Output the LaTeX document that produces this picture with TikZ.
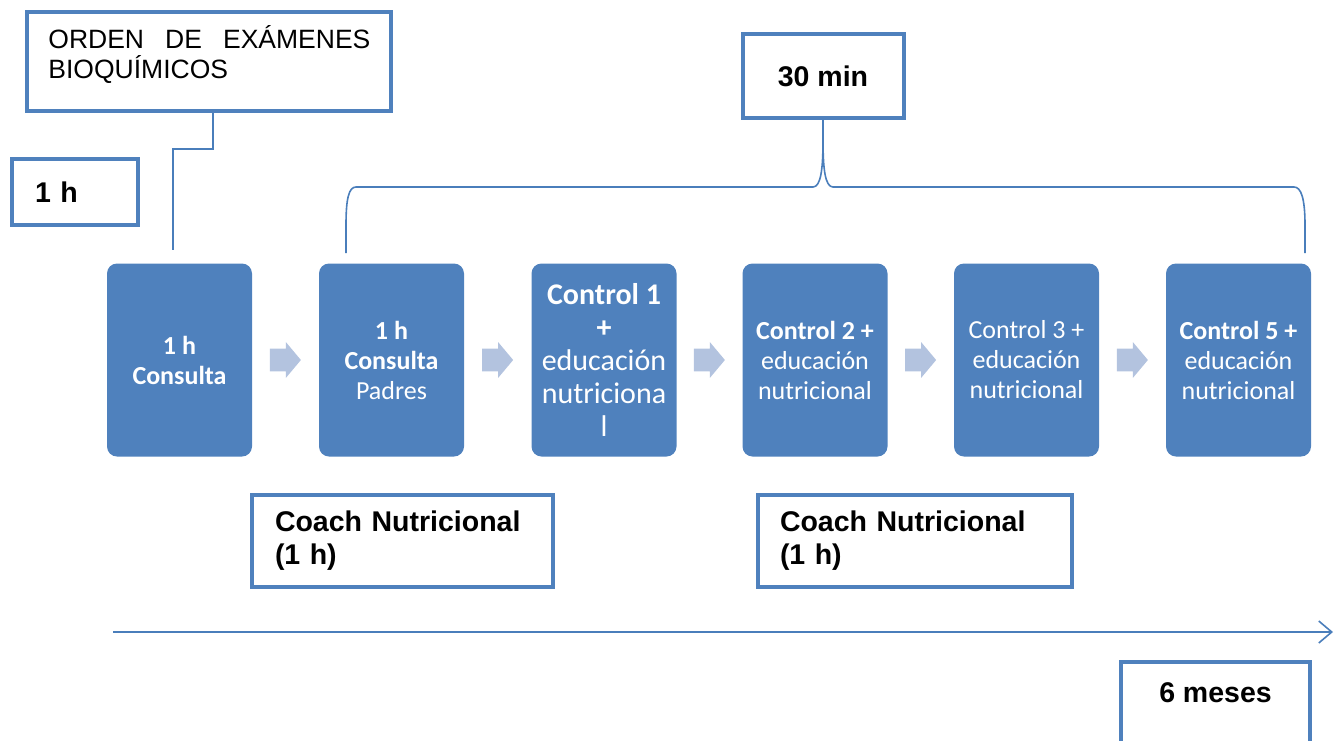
\documentclass[tikz,border=0pt]{standalone}
\usepackage{fontspec}
\newfontfamily\arialf{Liberation Sans}
\newfontfamily\calf{Carlito}
\usetikzlibrary{arrows.meta,shapes.arrows,calc}
\definecolor{accent}{HTML}{4F81BD}
\definecolor{lightarrow}{HTML}{B3C3DF}
\definecolor{linecol}{HTML}{4A7EBB}

\begin{document}
\begin{tikzpicture}[x=0.5pt,y=-0.5pt,
  obox/.style={draw=accent, line width=2pt, fill=white, inner sep=0pt},
  stage/.style={fill=accent, rounded corners=5pt, minimum width=72.5pt,
    minimum height=96.5pt, inner sep=2pt, text=white, align=center,
    font=\calf\fontsize{13}{15}\selectfont},
  flow/.style={single arrow, fill=lightarrow, draw=none, minimum height=15.5pt,
    single arrow head extend=3.25pt, single arrow tip angle=100, inner sep=0pt,
    text height=5.5pt, text depth=5.5pt, text width=0pt},
  conn/.style={draw=linecol, line width=0.8pt},
  bigtxt/.style={font=\arialf\bfseries\fontsize{14.25}{16.5}\selectfont},
]
\useasboundingbox (0,0) rectangle (1335,740);

% process stages
\node[stage] (s1) at (179.5,360) {\textbf{1 h}\\\textbf{Consulta}};
\node[stage] (s2) at (391.5,360) {\textbf{1 h}\\\textbf{Consulta}\\Padres};
\node[stage, font=\calf\fontsize{15}{16.5}\selectfont] (s3) at (604,360)
  {\textbf{Control 1}\\\textbf{+}\\educación\\nutriciona\\l};
\node[stage] (s4) at (815,360) {\textbf{Control 2 +}\\educación\\nutricional};
\node[stage] (s5) at (1026.5,360) {Control 3 +\\educación\\nutricional};
\node[stage] (s6) at (1238.5,360) {\textbf{Control 5 +}\\educación\\nutricional};

% arrows between stages, centred in each gap
\foreach \a/\b in {s1/s2,s2/s3,s3/s4,s4/s5,s5/s6}
  \node[flow, anchor=tail] (f-\a) at ($(\a.east)!0.5!(\b.west)+(-16,0)$) {};

% labelled boxes
\node[obox, minimum width=182pt, minimum height=49.5pt] (orden) at (209,61.5) {};
\node[anchor=north west, inner sep=0pt, align=left,
  font=\arialf\fontsize{13.25}{15}\selectfont] (ordentxt) at (48,25)
  {\makebox[161pt][s]{ORDEN DE EXÁMENES}\\BIOQUÍMICOS};

\node[obox, bigtxt, minimum height=33pt, text width=40pt, inner xsep=11.5pt,
  align=left] (oneh) at (75,192) {1 h};

\node[obox, bigtxt, minimum width=80.5pt, minimum height=42pt] (min30) at (823,76) {30 min};

\node[obox, bigtxt, text width=127.5pt, inner xsep=11.5pt, minimum height=46pt,
  align=left] (coachA) at (402.5,541) {Coach Nutricional\\(1 h)};
\node[obox, bigtxt, text width=135pt, inner xsep=11pt, minimum height=46pt,
  align=left] (coachB) at (915,541) {Coach Nutricional\\(1 h)};

\node[obox, minimum width=94.5pt, minimum height=44pt] (meses) at (1215.5,706) {};
\node[bigtxt, inner sep=0pt] (mesestxt) at (1215.5,693) {6 meses};

% connector from the order box down to the first consultation
\coordinate (ordenend) at (173,250);
\draw[conn] ([xshift=2pt]orden.south) -- ++(0,36) -| (ordenend);

% brace under the 30 min box
\coordinate (braceL) at (346,253);
\coordinate (braceR) at (1305,253);
\draw[conn] (min30.south) -- (823,140) .. controls (823,168) and (821,187) .. (813,187)
  -- (356,187) .. controls (349,187) and (346,198) .. (346,225) -- (braceL);
\draw[conn] (823,140) .. controls (823,168) and (825,187) .. (833,187)
  -- (1294,187) .. controls (1301,187) and (1305,198) .. (1305,225) -- (braceR);

% time line
\coordinate (tl0) at (113,632);
\coordinate (tl1) at (1333,632);
\draw[conn, -{Straight Barb[length=6.5pt,width=11pt]}] (tl0) -- (tl1);
\end{tikzpicture}
\end{document}
